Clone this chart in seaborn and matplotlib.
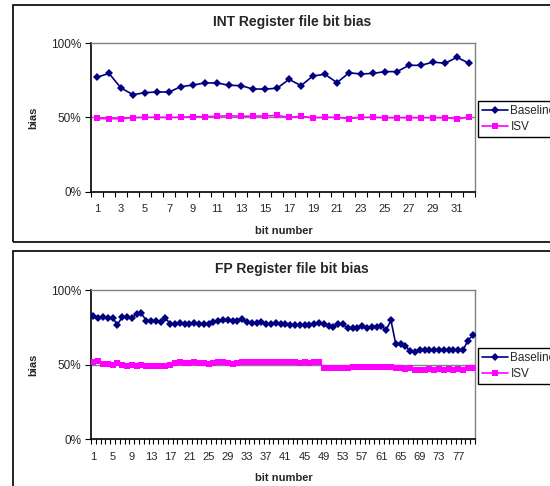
import matplotlib
matplotlib.use("Agg")
import matplotlib.pyplot as plt
from matplotlib.patches import Rectangle
from matplotlib.lines import Line2D
from matplotlib.ticker import FixedLocator, FuncFormatter
import numpy as np
import pandas as pd
import seaborn as sns

# values (percent)
int_baseline = [77.0, 79.6, 69.8, 65.3, 66.7, 67.1, 67.1, 70.7, 71.8, 73.2,
                73.2, 71.6, 71.4, 69.1, 69.1, 69.6, 75.6, 71.4, 77.9, 79.0,
                73.4, 80.0, 79.2, 79.6, 80.8, 80.8, 85.0, 85.0, 87.2, 86.4,
                90.4, 86.4]
int_isv = [49.4, 49.2, 49.2, 49.9, 50.1, 50.1, 50.1, 50.1, 50.6, 50.6,
           50.8, 51.2, 50.8, 51.0, 51.0, 51.4, 50.1, 50.8, 49.8, 50.1,
           50.1, 49.2, 50.1, 50.1, 49.9, 49.9, 49.9, 49.9, 49.9, 49.9,
           49.2, 50.1]

fp_baseline = [82.5, 81.4, 82.2, 81.0, 81.4, 76.7, 81.9, 81.9, 81.5, 83.7,
               84.3, 79.5, 79.2, 79.2, 78.5, 81.0, 77.4, 77.4, 77.9, 77.4,
               77.4, 77.9, 77.4, 77.4, 77.4, 78.7, 79.5, 80.2, 79.6, 79.2,
               79.2, 80.3, 78.4, 77.9, 77.9, 78.7, 77.4, 77.4, 77.9, 77.4,
               77.0, 76.5, 76.5, 76.7, 76.5, 76.5, 77.4, 77.9, 77.0, 75.8,
               75.2, 77.0, 77.0, 74.3, 74.3, 74.7, 75.6, 74.3, 75.4, 75.4,
               75.6, 73.4, 79.6, 63.5, 64.0, 62.4, 59.0, 58.6, 60.0, 59.5,
               59.5, 59.5, 59.5, 60.0, 59.5, 60.0, 59.5, 59.5, 66.0, 69.5]
fp_isv = [52.0, 52.3, 50.5, 50.5, 50.0, 51.0, 49.5, 49.0, 49.5, 49.0,
          49.5, 49.0, 48.8, 49.0, 49.2, 49.0, 49.5, 51.0, 51.5, 51.0,
          50.8, 51.5, 51.0, 51.0, 50.5, 51.0, 51.5, 51.5, 51.3, 50.5,
          51.3, 51.5, 51.8, 51.5, 51.5, 51.5, 51.8, 51.5, 51.5, 51.8,
          51.5, 51.5, 51.5, 51.3, 51.5, 51.3, 51.5, 51.5, 47.8, 47.5,
          47.8, 47.8, 47.5, 47.8, 48.0, 48.0, 48.3, 48.0, 48.3, 48.5,
          48.5, 48.0, 48.5, 47.5, 47.8, 47.0, 47.5, 46.5, 46.5, 46.5,
          47.0, 46.5, 46.8, 46.5, 47.0, 46.5, 46.8, 46.5, 47.5, 47.5]

series_names = ["Baseline", "ISV"]
titles = ["INT Register file bit bias", "FP Register file bit bias"]
colors = {"Baseline": "#000080", "ISV": "#FF00FF"}
markers = {"Baseline": "D", "ISV": "s"}

W, H = 550, 486

sns.set_theme(style="white")
plt.rcParams["font.family"] = ["Liberation Sans", "DejaVu Sans"]

fig = plt.figure(figsize=(W / 100, H / 100), dpi=100)
fig.patch.set_facecolor("white")


def px_box(left, top, right, bottom):
    return [left / W, 1 - bottom / H, (right - left) / W, (bottom - top) / H]


def draw_panel(title, baseline, isv, frame, plot_top, plot_bottom, label_step, msize, legend_top):
    ftop, fbottom = frame
    fig.patches.append(Rectangle((13 / W, 1 - fbottom / H), 600 / W, (fbottom - ftop) / H,
                                 transform=fig.transFigure, fill=False,
                                 edgecolor="black", lw=1.2, zorder=0))
    ax = fig.add_axes(px_box(91, plot_top, 475, plot_bottom))
    n = len(baseline)
    bits = np.arange(1, n + 1)
    df = pd.DataFrame({
        "bit": np.concatenate([bits, bits]),
        "bias": baseline + isv,
        "series": [series_names[0]] * n + [series_names[1]] * n,
    })
    ax.axhline(50, color="#808080", lw=1, zorder=1)
    sns.lineplot(data=df, x="bit", y="bias", hue="series", style="series",
                 palette=colors, markers=markers, dashes=False,
                 markersize=msize, markeredgewidth=0, lw=1.2,
                 legend=False, ax=ax, zorder=3)

    ax.set_xlim(0.5, n + 0.5)
    ax.set_ylim(0, 100)
    ax.set_xticks(np.arange(1, n + 1, label_step))
    ax.xaxis.set_minor_locator(FixedLocator(np.arange(0.5, n + 1, 1)))
    ax.set_yticks([0, 50, 100])
    ax.yaxis.set_major_formatter(FuncFormatter(lambda v, p: f"{int(v)}%"))
    ax.tick_params(axis="x", which="major", bottom=True, length=0, pad=9, labelsize=8)
    ax.tick_params(axis="x", which="minor", bottom=True, length=3.5, width=0.8,
                   direction="out", color="black")
    ax.tick_params(axis="y", left=True, length=4, width=0.8, direction="out",
                   pad=3, labelsize=8.5, color="black")
    ax.set_xlabel("")
    ax.set_ylabel("")
    for side in ["left", "bottom"]:
        ax.spines[side].set_color("black")
        ax.spines[side].set_linewidth(1.2)
    for side in ["top", "right"]:
        ax.spines[side].set_color("#808080")
        ax.spines[side].set_linewidth(1)

    mid = (plot_top + plot_bottom) / 2
    fig.text(292 / W, 1 - (plot_top - 21) / H, title, ha="center", va="center",
             fontsize=10, fontweight="bold")
    fig.text(33 / W, 1 - mid / H, "bias", rotation=90, ha="center", va="center",
             fontsize=8, fontweight="bold")
    fig.text(284 / W, 1 - (plot_bottom + 39) / H, "bit number", ha="center",
             va="center", fontsize=8, fontweight="bold")

    handles = [Line2D([], [], color=colors[s], marker=markers[s], markersize=4.5,
                      markeredgewidth=0, lw=1.2) for s in series_names]
    fig.legend(handles, series_names, loc="upper left",
               bbox_to_anchor=(478 / W, 1 - legend_top / H), frameon=True,
               fancybox=False, edgecolor="black", framealpha=1, fontsize=8.5,
               handlelength=2.2, handletextpad=0.2, borderpad=0.35,
               borderaxespad=0, labelspacing=0.35)
    return ax


draw_panel(titles[0], int_baseline, int_isv, (5, 242), 43, 192, 2, 4.5, 101)
draw_panel(titles[1], fp_baseline, fp_isv, (251, 495), 290, 439, 4, 3.7, 348)

fig.savefig("out.png", dpi=100)
